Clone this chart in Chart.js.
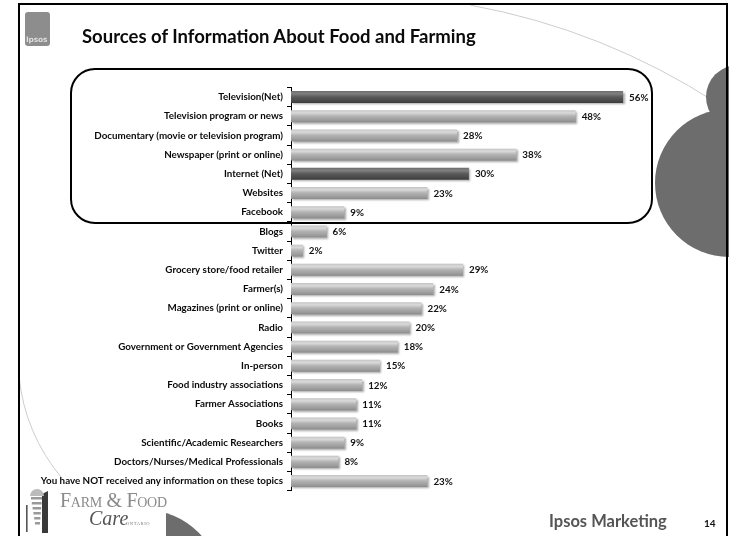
<!DOCTYPE html>
<html>
<head>
<meta charset="utf-8">
<script src="https://cdn.jsdelivr.net/npm/chart.js@4/dist/chart.umd.min.js"></script>
<style>
  html, body { margin: 0; padding: 0; background: #fff; }
  #slide { position: relative; width: 729px; height: 536px; overflow: hidden; }
  #slide canvas { position: absolute; left: 0; top: 0; }
  .txt { position: absolute; white-space: nowrap; line-height: 1; }
  #title { left: 82px; top: 25px; font: 700 18.5px Lato, "Open Sans", sans-serif; color: #0a0a0a; }
  #ipsosTag { left: 549px; top: 511px; font: 700 16.5px Lato, "Open Sans", sans-serif; color: #555; }
  #pageNo { left: 704px; top: 517px; font: 700 10px Lato, "Open Sans", sans-serif; color: #111; }
  #ipsosLogo { left: 25px; top: 12px; width: 25px; height: 34px; background: #8d8d8d; border-radius: 3px; }
  #ipsosLogo span { position: absolute; left: 1px; bottom: 2px; font: 700 7.5px "DejaVu Sans", sans-serif; color: #ddd; letter-spacing: -0.2px; }
  #ffName { left: 60px; top: 489px; font: 400 20px "Liberation Serif", "DejaVu Serif", serif; font-variant: small-caps; color: #8a8a8a; letter-spacing: -0.3px; }
  #ffCare { left: 89px; top: 507px; font: italic 400 20px "Liberation Serif", "DejaVu Serif", serif; color: #555; }
  #ffRegion { left: 126px; top: 521px; font: 400 4.5px "Liberation Serif", serif; color: #777; letter-spacing: 0.6px; }
</style>
</head>
<body>
<div id="slide">
  <canvas id="chart" width="729" height="536"></canvas>
  <div class="txt" id="ipsosLogo"><span>Ipsos</span></div>
  <div class="txt" id="title">Sources of Information About Food and Farming</div>
  <div class="txt" id="ffName">Farm &amp; Food</div>
  <div class="txt" id="ffCare">Care</div>
  <div class="txt" id="ffRegion">ONTARIO</div>
  <div class="txt" id="ipsosTag">Ipsos Marketing</div>
  <div class="txt" id="pageNo">14</div>
</div>
<script>
// Share of respondents naming each source (%)
const categories = [
  "Television(Net)",
  "Television program or news",
  "Documentary (movie or television program)",
  "Newspaper (print or online)",
  "Internet (Net)",
  "Websites",
  "Facebook",
  "Blogs",
  "Twitter",
  "Grocery store/food retailer",
  "Farmer(s)",
  "Magazines (print or online)",
  "Radio",
  "Government or Government Agencies",
  "In-person",
  "Food industry associations",
  "Farmer Associations",
  "Books",
  "Scientific/Academic Researchers",
  "Doctors/Nurses/Medical Professionals",
  "You have NOT received any information on these topics"
];
const values = [56, 48, 28, 38, 30, 23, 9, 6, 2, 29, 24, 22, 20, 18, 15, 12, 11, 11, 9, 8, 23];
// Roll-up ("Net") rows are shown in a darker shade
const netCategories = ["Television(Net)", "Internet (Net)"];
const axisMax = 60;

const BAR_PCT = 0.62;
const LABEL_FONT = "Lato, 'Open Sans', sans-serif";

// Cylinder-like shading: light highlight near the top, darker towards the bottom
function barFill(sc) {
  const chart = sc.chart;
  const isNet = netCategories.includes(categories[sc.dataIndex]);
  const flat = isNet ? '#555555' : '#a9a9a9';
  const yScale = chart.scales && chart.scales.y;
  if (!yScale || !chart.chartArea) return flat;
  const yc = yScale.getPixelForValue(sc.dataIndex);
  const half = (yScale.height / categories.length) * BAR_PCT / 2;
  const g = chart.ctx.createLinearGradient(0, yc - half, 0, yc + half);
  if (isNet) {
    g.addColorStop(0, '#6e6e6e');
    g.addColorStop(0.22, '#808080');
    g.addColorStop(0.5, '#5a5a5a');
    g.addColorStop(0.85, '#464646');
    g.addColorStop(1, '#3c3c3c');
  } else {
    g.addColorStop(0, '#c4c4c4');
    g.addColorStop(0.22, '#dadada');
    g.addColorStop(0.5, '#b2b2b2');
    g.addColorStop(0.85, '#9a9a9a');
    g.addColorStop(1, '#8a8a8a');
  }
  return g;
}

const deg = a => a * Math.PI / 180;

// Slide furniture behind the chart: frame, thin arcs, grey discs, logo mark, highlight box
const slideDecor = {
  id: 'slideDecor',
  beforeDraw(chart) {
    const ctx = chart.ctx;
    ctx.save();
    ctx.strokeStyle = '#cdcdcd';
    ctx.lineWidth = 1;
    ctx.beginPath(); ctx.arc(348, 672, 678, deg(-79.6), deg(-57)); ctx.stroke();
    ctx.beginPath(); ctx.arc(207, 357, 189, deg(140), deg(174)); ctx.stroke();

    ctx.fillStyle = '#6d6d6d';
    [[738, 97, 32], [729, 183, 74], [145, 585, 75]].forEach(([x, y, r]) => {
      ctx.beginPath(); ctx.arc(x, y, r, 0, Math.PI * 2); ctx.fill();
    });

    // white plate under the partner logo
    ctx.fillStyle = '#fff';
    ctx.fillRect(21, 486, 145, 50);

    // partner logo mark
    ctx.fillStyle = '#9a9a9a';
    for (let i = 0; i < 6; i++) {
      const y = 497 + i * 5;
      ctx.fillRect(31 + i * 0.8, y, 11 - i * 1.2, 2.5);
    }
    ctx.fillStyle = '#3a3a3a';
    ctx.beginPath();
    ctx.moveTo(42, 494); ctx.lineTo(48, 491); ctx.lineTo(48, 533); ctx.lineTo(42, 533); ctx.closePath(); ctx.fill();
    ctx.fillStyle = '#555';
    ctx.fillRect(26, 505, 1.6, 27);
    ctx.fillStyle = '#bbb';
    ctx.beginPath(); ctx.arc(37, 496, 7, Math.PI, 0); ctx.fill();

    // slide frame
    ctx.strokeStyle = '#000';
    ctx.lineWidth = 2;
    ctx.beginPath();
    ctx.moveTo(19, 540); ctx.lineTo(19, 4); ctx.lineTo(727, 4); ctx.lineTo(727, 540);
    ctx.stroke();

    // rounded box around the media rows
    ctx.lineWidth = 2;
    ctx.beginPath();
    ctx.roundRect(71, 69, 581, 154, 24);
    ctx.stroke();
    ctx.restore();
  },
  beforeDatasetDraw(chart) {
    const ctx = chart.ctx;
    ctx.save();
    ctx.shadowColor = 'rgba(0,0,0,0.35)';
    ctx.shadowBlur = 2;
    ctx.shadowOffsetX = 1.5;
    ctx.shadowOffsetY = 1.5;
  },
  afterDatasetDraw(chart) {
    chart.ctx.restore();
  },
  afterDatasetsDraw(chart) {
    const ctx = chart.ctx;
    const meta = chart.getDatasetMeta(0);
    ctx.save();
    ctx.font = `700 9.8px ${LABEL_FONT}`;
    ctx.fillStyle = '#111';
    ctx.textBaseline = 'middle';
    ctx.textAlign = 'left';
    meta.data.forEach((bar, i) => {
      ctx.fillText(values[i] + '%', bar.x + 6, bar.y + 0.5);
    });
    ctx.restore();
  }
};

new Chart(document.getElementById('chart'), {
  type: 'bar',
  data: {
    labels: categories,
    datasets: [{
      data: values,
      backgroundColor: barFill,
      borderWidth: 0,
      barPercentage: BAR_PCT,
      categoryPercentage: 1
    }]
  },
  options: {
    indexAxis: 'y',
    responsive: false,
    animation: false,
    devicePixelRatio: 1,
    layout: { padding: { left: 0, right: 82.2, top: 87.4, bottom: 45.4 } },
    plugins: { legend: { display: false }, tooltip: { enabled: false } },
    scales: {
      x: { display: false, min: 0, max: axisMax },
      y: {
        afterFit(scale) { scale.width = 291; },
        grid: { display: true, drawOnChartArea: false, drawTicks: true, tickLength: 4, offset: true, color: '#000', lineWidth: 1 },
        border: { display: true, color: '#000', width: 1 },
        ticks: { color: '#0a0a0a', padding: 4, autoSkip: false, font: { family: LABEL_FONT, size: 9.8, weight: '700' } }
      }
    }
  },
  plugins: [slideDecor]
});
</script>
</body>
</html>
